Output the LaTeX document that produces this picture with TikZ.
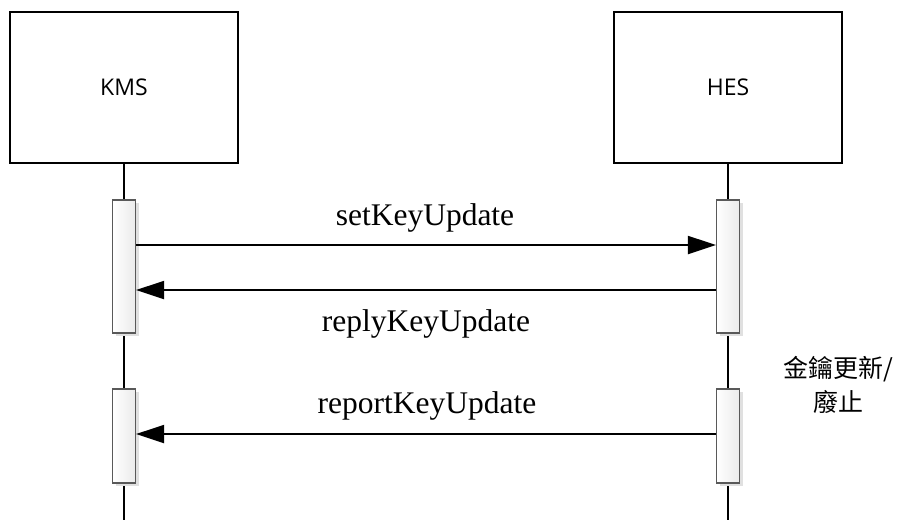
\documentclass[tikz,border=0pt]{standalone}
\usepackage{fontspec}
\setmainfont{Liberation Serif}
\newfontfamily\boxfont{Open Sans}
\newfontfamily\cjkfont{Noto Sans CJK TC}
\usetikzlibrary{arrows.meta,shadings}
\begin{document}
\begin{tikzpicture}[x=1pt,y=-1pt,
  actor/.style={draw=black,line width=2pt,minimum width=228pt,minimum height=151pt,inner sep=0pt,font=\boxfont\fontsize{23}{27}\selectfont},
  bar/.style={draw=black!65,line width=1.2pt,left color=white,right color=black!8,minimum width=23pt,inner sep=0pt},
  barshadow/.style={fill=black!12,draw=none,minimum width=23pt,inner sep=0pt},
  life/.style={line width=2pt},
  msg/.style={line width=2pt,-{Triangle[length=28pt,width=18pt]}},
  lbl/.style={font=\fontsize{31.5}{34}\selectfont,inner sep=0pt}]
\useasboundingbox (0,0) rectangle (899,520);
\node[actor] (kms) at (124,87.5) {KMS};
\node[actor] (hes) at (728,87.5) {HES};
\coordinate (kend) at (124,520);
\coordinate (hend) at (728,520);
\draw[life] (kms.south) -- (kend);
\draw[life] (hes.south) -- (hend);
% shadows
\node[barshadow,minimum height=133pt] (ks1) at (127.5,269.5) {};
\node[barshadow,minimum height=133pt] (hs1) at (731.5,269.5) {};
\node[barshadow,minimum height=94pt] (ks2) at (127.5,439) {};
\node[barshadow,minimum height=94pt] (hs2) at (731.5,439) {};
% bars
\node[bar,minimum height=133pt] (kb1) at (124,266.5) {};
\node[bar,minimum height=133pt] (hb1) at (728,266.5) {};
\node[bar,minimum height=94pt] (kb2) at (124,436) {};
\node[bar,minimum height=94pt] (hb2) at (728,436) {};
% messages
\coordinate (m1) at (0,245);
\coordinate (m2) at (0,290);
\coordinate (m3) at (0,434);
\draw[msg] (kb1.east |- m1) -- (hb1.west |- m1);
\draw[msg] (hb1.west |- m2) -- (kb1.east |- m2);
\draw[msg] (hb2.west |- m3) -- (kb2.east |- m3);
\node[lbl,anchor=base] (l1) at (425,225) {setKeyUpdate};
\node[lbl,anchor=base] (l2) at (426,331) {replyKeyUpdate};
\node[lbl,anchor=base] (l3) at (427,413) {reportKeyUpdate};
\node[font=\cjkfont\fontsize{25}{34}\selectfont,align=center,inner sep=0pt] (note) at (838,385) {金鑰更新/\\廢止};
\end{tikzpicture}
\end{document}
